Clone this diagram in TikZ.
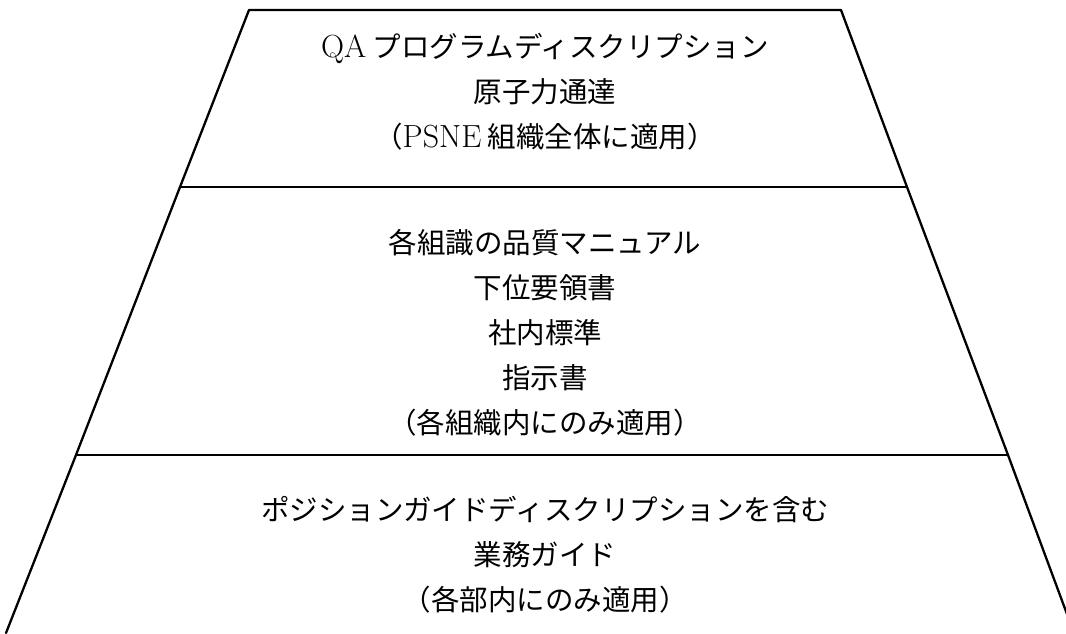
\documentclass[tikz,border=0pt]{standalone}
\usepackage{fontspec}
\newfontfamily\cjk{Noto Sans CJK JP}
\newcommand{\lat}[1]{{\rmfamily\fontsize{32}{45}\selectfont #1}}
\tikzset{
  edge/.style={line width=2.3pt, line cap=round, line join=round},
  lbl/.style={align=center, font=\cjk\fontsize{28.5}{45}\selectfont, inner sep=0pt}
}
\begin{document}
\begin{tikzpicture}[x=1pt,y=-1pt]
\useasboundingbox (0,0) rectangle (1066,633);
\begin{scope}
\clip (0,0) rectangle (1066,633);
\coordinate (tl) at (249,10);
\coordinate (tr) at (841,10);
\coordinate (m1l) at (180,187);
\coordinate (m1r) at (907,187);
\coordinate (m2l) at (76,455);
\coordinate (m2r) at (1008,455);
\coordinate (bl) at (6,633);
\coordinate (br) at (1074,633);
\draw[edge] (bl) -- (m2l) -- (m1l) -- (tl) -- (tr) -- (m1r) -- (m2r) -- (br);
\draw[edge] (m1l) -- (m1r);
\draw[edge] (m2l) -- (m2r);
\end{scope}
\node[lbl] (top) at (545,92) {\lat{QA} プログラムディスクリプション\\原子力通達\\（\lat{PSNE} 組織全体に適用）};
\node[lbl] (mid) at (545,332.5) {各組識の品質マニュアル\\下位要領書\\社内標準\\指示書\\（各組織内にのみ適用）};
\node[lbl] (bot) at (545,555) {ポジションガイドディスクリプションを含む\\業務ガイド\\（各部内にのみ適用）};
\end{tikzpicture}
\end{document}
